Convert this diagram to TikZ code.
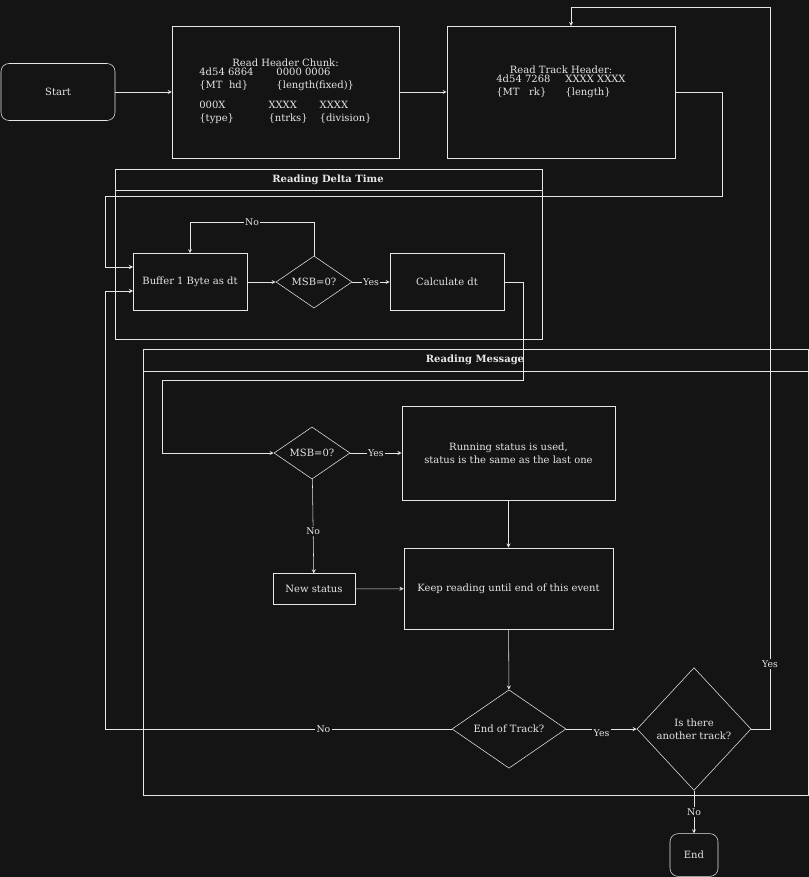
\documentclass[tikz,border=0pt]{standalone}
\usepackage{fontspec}
\setmainfont{DejaVu Serif}
\usetikzlibrary{shapes.geometric,positioning}
\definecolor{bg}{HTML}{141414}
\definecolor{ln}{HTML}{E6E6E6}
\tikzset{box/.style={rectangle,draw=ln,fill=bg,text=ln,align=center,inner sep=2pt},
  dia/.style={diamond,draw=ln,fill=bg,text=ln,align=center,inner sep=0pt,aspect=1},
  lab/.style={fill=bg,text=ln,inner sep=1pt,font=\fontsize{7}{8}\selectfont},
  lane/.style={draw=ln}}
\begin{document}
\begin{tikzpicture}[x=0.75pt,y=-0.75pt,>=stealth,ln,font=\fontsize{7.5}{9.5}\selectfont]
    \fill[bg] (0,0) rectangle (809,877);
    \useasboundingbox (0,0) rectangle (809,877);
    % swimlanes
    \draw[lane] (115,169) rectangle (542,339);
    \draw[lane] (115,190) -- (542,190);
    \node[text=ln,font=\fontsize{7.5}{9}\selectfont\bfseries] (laneA) at (328,180) {Reading Delta Time};
    \draw[lane] (143,349) rectangle (808,795);
    \draw[lane] (143,371) -- (808,371);
    \node[text=ln,font=\fontsize{7.5}{9}\selectfont\bfseries] (laneB) at (475,360) {Reading Message};

    \node[box,rounded corners=6pt,minimum width=85.5pt,minimum height=42.75pt] (start) at (58,92) {Start};
    \node[box,minimum width=170pt,minimum height=99pt] (hdr) at (285.5,92) {Read Header Chunk:\\[-1pt]
      \begin{tabular}{@{}l@{\hspace{1.5em}}l@{\hspace{1.2em}}l@{}}
      4d54 6864 & \multicolumn{2}{l}{0000 0006}\\
      \{MT\ \ hd\} & \multicolumn{2}{l}{\{length(fixed)\}}\\[6pt]
      000X & XXXX & XXXX\\
      \{type\} & \{ntrks\} & \{division\}
      \end{tabular}};
    \node[box,minimum width=171pt,minimum height=99pt] (trk) at (561,92) {Read Track Header:\\[-1pt]
      \begin{tabular}{@{}l@{\hspace{1.5em}}l@{}}
      4d54 7268 & XXXX XXXX\\
      \{MT\ \ \ rk\} & \{length\}
      \end{tabular}\\[12pt]};
    \node[box,minimum width=85.5pt,minimum height=42.75pt] (buf) at (190,282) {Buffer 1 Byte as dt};
    \node[dia,minimum width=57pt] (msb1) at (314,282) {MSB=0?};
    \node[box,minimum width=85.5pt,minimum height=42.75pt] (calc) at (447,282) {Calculate dt};
    \node[dia,minimum width=57pt] (msb2) at (312,453) {MSB=0?};
    \node[box,minimum width=160pt,minimum height=70.5pt] (run) at (508.5,453) {Running status is used,\\status is the same as the last one};
    \node[box,minimum width=61.5pt,minimum height=23pt] (new) at (314,589) {New status};
    \node[box,minimum width=157pt,minimum height=61pt] (keep) at (508.5,588.5) {Keep reading until end of this event};
    \node[dia,minimum width=85.5pt] (eot) at (509,729) {End of Track?};
    \node[dia,minimum width=85.5pt,minimum height=92pt,aspect=0.93] (more) at (694,729) {Is there\\another track?};
    \node[box,rounded corners=6pt,minimum width=36pt,minimum height=32pt] (end) at (694,855) {End};
    \coordinate (in1) at (133,267);
    \coordinate (in2) at (133,291);

    \draw[->] (start) -- (hdr);
    \draw[->] (hdr) -- (trk);
    \draw[->] (trk.east) -- (722,92) -- (722,196) -- (105,196) -- (105,267) -- (in1);
    \draw[->] (buf) -- (msb1);
    \draw[->] (msb1.north) -- (314,222) -- node[lab]{No} (190,222) -- (buf.north);
    \draw[->] (msb1) -- node[lab]{Yes} (calc);
    \draw[->] (calc.east) -- (523,282) -- (523,380) -- (162,380) -- (162,453) -- (msb2.west);
    \draw[->] (msb2) -- node[lab]{Yes} (run);
    \draw[->] (msb2) -- node[lab,pos=0.55]{No} (new);
    \draw[->] (new) -- (keep);
    \draw[->] (run) -- (keep);
    \draw[->] (keep) -- (eot);
    \draw[->] (eot) -- node[lab,below=-1pt]{Yes} (more);
    \draw[->] (eot.west) -- node[lab,pos=0.37]{No} (105,729) -- (105,291) -- (in2);
    \draw[->] (more.east) -- (770,729) -- node[lab,pos=0.09]{Yes} (770,7) -- (571,7) -- (571,26);
    \draw[->] (more) -- node[lab]{No} (end);
\end{tikzpicture}
\end{document}
